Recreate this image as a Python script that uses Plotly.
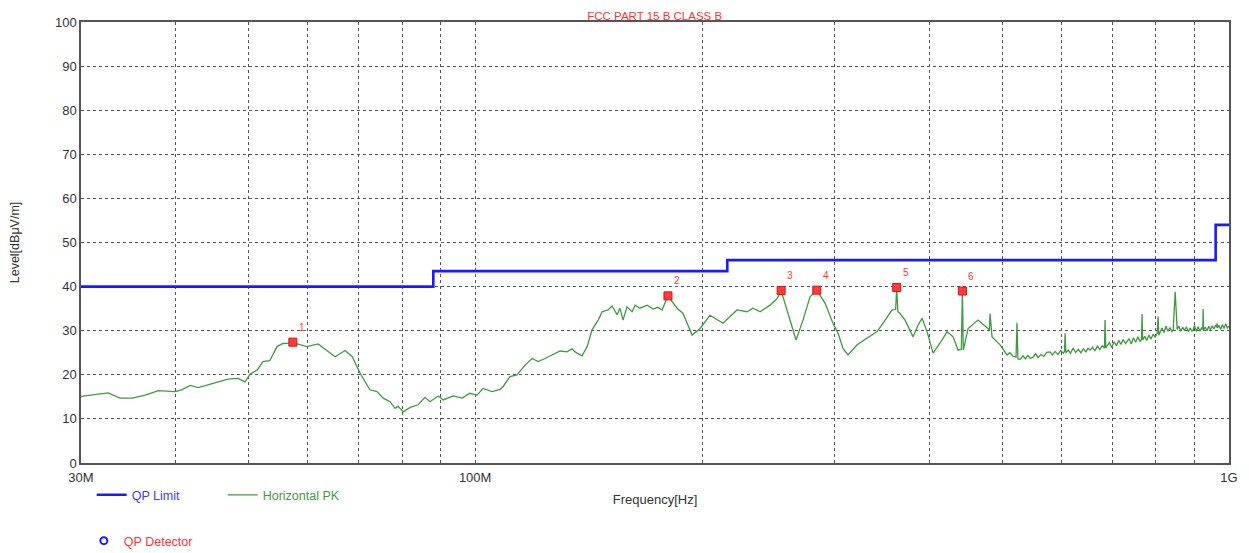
import math
import plotly.graph_objects as go

# ---------------- data ----------------
limit_freq_mhz = [30, 88, 216, 960, 1000]
limit_level = [40.0, 43.5, 46.0, 54.0, 54.0]

pk_freq_mhz = [
    30.0, 32.6, 33.8, 35.1, 36.5, 38.0, 40.0, 40.8, 41.9, 42.9, 44.2, 47.0, 48.5, 49.5,
    50.3, 51.4, 52.3, 53.4, 54.6, 55.6, 56.8, 57.3, 59.8, 61.9, 65.2, 67.2, 68.7, 70.4,
    72.5, 74.1, 75.5, 77.1, 78.3, 79.0, 80.3, 82.0, 84.0, 85.8, 87.1, 89.3, 90.7, 93.5,
    96.1, 98.4, 100.6, 102.4, 105.3, 107.9, 108.9, 111.2, 113.6, 116.5, 119.0, 121.2,
    123.8, 126.9, 129.6, 132.4, 134.4, 135.7, 138.6, 140.8, 142.9, 145.6, 147.4, 150.1,
    151.9, 154.3, 155.6, 157.1, 159.0, 161.5, 163.0, 165.4, 169.1, 172.2, 174.8, 177.0,
    180.2, 185.3, 188.7, 194.0, 198.8, 204.9, 213.2, 222.5, 229.4, 233.6, 238.8, 246.1,
    251.5, 254.6, 261.7, 266.5, 272.2, 278.1, 283.9, 291.2, 298.3, 303.0, 307.6, 312.3,
    321.1, 331.0, 341.3, 347.6, 357.3, 361.2, 362.4, 363.7, 366.2, 371.8, 381.0, 386.9,
    391.6, 397.6, 405.0, 416.3, 422.6, 430.5, 437.1, 441.5, 442.9, 444.2, 450.7, 464.6,
    474.7, 481.0, 482.0, 484.9, 497.0, 502.0, 507.6, 512.0, 517.0, 521.8, 523.3, 524.8,
    528.4, 533.0, 537.0, 541.0, 545.0, 549.6, 554.0, 558.0, 563.0, 568.0, 573.0, 579.0,
    583.0, 588.0, 593.0, 598.0, 603.0, 605.0, 606.2, 607.5, 611.8, 616.0, 621.0, 626.0,
    631.0, 636.0, 641.0, 646.0, 650.0, 654.3, 659.0, 664.0, 669.0, 674.0, 679.0, 683.5,
    684.9, 686.3, 689.1, 694.0, 699.0, 704.0, 709.0, 714.0, 719.0, 724.0, 729.0, 732.6,
    737.0, 742.0, 747.0, 752.0, 757.0, 762.0, 765.5, 766.8, 768.2, 773.0, 778.0, 783.0,
    788.0, 793.0, 798.0, 803.0, 805.3, 807.0, 810.2, 815.0, 820.0, 825.0, 830.0, 835.0,
    840.0, 843.3, 848.4, 853.6, 858.0, 863.0, 868.0, 873.0, 878.0, 883.0, 888.0, 893.0,
    896.2, 900.0, 905.0, 910.0, 915.0, 920.0, 923.0, 924.0, 925.0, 930.0, 935.3, 940.0,
    945.0, 950.0, 955.0, 960.0, 963.0, 964.2, 965.5, 970.0, 975.0, 980.0, 985.0, 990.0,
    995.0, 1000.0,
]
pk_level = [
    15.1, 15.9, 14.7, 14.7, 15.4, 16.4, 16.2, 16.6, 17.6, 17.1, 17.7, 19.0, 19.2, 18.4,
    20.2, 21.1, 23.0, 23.2, 26.4, 27.1, 27.2, 27.3, 26.4, 27.0, 24.1, 25.5, 24.1, 20.3,
    16.6, 16.2, 14.7, 13.9, 12.4, 12.9, 11.6, 12.6, 13.2, 14.9, 13.9, 15.2, 14.3, 15.2,
    14.7, 15.8, 15.4, 16.9, 16.2, 16.7, 17.3, 19.6, 20.0, 22.2, 23.7, 23.0,
    23.7, 24.7, 25.4, 25.2, 25.9, 25.2, 24.3, 26.4, 30.2, 32.4, 34.3, 34.7,
    35.6, 33.6, 35.1, 32.4, 35.4, 34.3, 35.8, 35.1, 35.8, 34.9, 35.3, 34.7,
    37.9, 35.1, 33.9, 29.0, 30.5, 33.5, 31.7, 34.7, 34.3, 35.1, 34.3, 35.8,
    37.3, 39.1, 32.4, 27.9, 32.4, 37.7, 39.2, 36.2, 31.7, 29.4, 26.0, 24.5,
    26.8, 28.3, 29.8, 31.7, 34.7, 34.8, 39.7, 34.3, 33.9, 32.4, 28.6, 31.3,
    32.8, 29.8, 24.9, 27.9, 29.8, 28.6, 25.6, 25.8, 39.0, 25.6, 30.5, 32.4,
    30.9, 30.2, 33.9, 28.6, 26.8, 25.6, 24.5, 25.0, 24.2, 24.0, 31.8, 23.6,
    23.5, 24.3, 23.6, 24.4, 23.7, 24.0, 24.8, 23.9, 24.6, 24.2, 25.1, 25.2,
    24.5, 25.3, 24.6, 25.5, 24.9, 25.3, 29.4, 25.0, 25.6, 24.9, 26.0, 25.1,
    25.8, 25.0, 25.9, 25.2, 26.0, 25.6, 26.3, 25.4, 26.5, 25.7, 26.6, 26.0,
    32.4, 26.1, 26.5, 27.3, 26.2, 27.5, 26.6, 27.8, 26.9, 28.0, 27.1, 27.5,
    28.2, 27.0, 28.4, 27.4, 28.6, 27.6, 28.0, 33.8, 27.9, 28.7, 27.8, 29.0,
    28.1, 29.2, 28.5, 29.4, 33.2, 29.0, 29.8, 30.6, 29.6, 31.0, 29.9, 30.7,
    29.8, 30.2, 38.8, 30.3, 31.0, 29.9, 30.8, 30.0, 30.9, 29.8, 30.6, 29.9,
    30.2, 31.2, 29.8, 30.9, 29.9, 30.7, 30.3, 34.9, 30.1, 30.8, 30.0, 31.0,
    30.2, 31.1, 30.4, 31.3, 30.8, 31.7, 30.6, 31.2, 30.3, 31.4, 30.5, 31.6,
    30.6, 31.0,
]

peak_freq_mhz = [57.3, 180.2, 254.6, 283.9, 362.4, 442.9]
peak_level = [27.4, 37.9, 39.1, 39.2, 39.8, 39.0]
peak_labels = ["1", "2", "3", "4", "5", "6"]

y_ticks = [0, 10, 20, 30, 40, 50, 60, 70, 80, 90, 100]
x_grid_mhz = [30, 40, 50, 60, 70, 80, 90, 100, 200, 300, 400, 500, 600, 700, 800, 900, 1000]
x_tick_text = {30: "30M", 100: "100M", 1000: "1G"}

# ---------------- figure ----------------
FONT = "Liberation Sans, Arial, sans-serif"
fig = go.Figure()

fig.add_trace(go.Scatter(
    x=limit_freq_mhz, y=limit_level, mode="lines", line_shape="hv",
    line=dict(color="#1a1aff", width=2.6),
    name="<span style='color:#3b3bff'>QP Limit</span>", legend="legend",
))
fig.add_trace(go.Scatter(
    x=pk_freq_mhz, y=pk_level, mode="lines",
    line=dict(color="#3f9a3f", width=1.3),
    name="<span style='color:#3f9a3f'>Horizontal PK</span>", legend="legend",
))
fig.add_trace(go.Scatter(
    x=[None], y=[None], mode="markers",
    marker=dict(symbol="circle-open", color="#1a1aff", size=7, line=dict(width=2)),
    name="<span style='color:#ff3333'>QP Detector</span>", legend="legend2",
))
fig.add_trace(go.Scatter(
    x=peak_freq_mhz, y=peak_level, mode="markers",
    marker=dict(symbol="square", color="#ff3b3b", size=8, line=dict(color="#e01010", width=1)),
    showlegend=False,
))

# annotations on a log axis take log10 positions
for f, lv, lab in zip(peak_freq_mhz, peak_level, peak_labels):
    fig.add_annotation(x=math.log10(f), y=lv, text=lab, showarrow=False, xref="x", yref="y",
                       xshift=9, yshift=15, font=dict(family=FONT, size=10, color="#ff3333"))

# page body has an 8px margin, so the figure is offset by 8px inside the window
fig.update_layout(
    width=1233, height=545,
    margin=dict(l=73, r=12, t=14, b=90, autoexpand=False),
    paper_bgcolor="white", plot_bgcolor="white",
    font=dict(family=FONT, size=13, color="#333333"),
    title=dict(text="FCC PART 15 B CLASS B", x=0.5245, xanchor="center",
               y=1 - 7.5 / 545, yanchor="middle",
               font=dict(family=FONT, size=11.5, color="#ff3333")),
    legend=dict(orientation="h", x=0.0093, xanchor="left", y=-0.073, yanchor="middle",
                font=dict(family=FONT, size=12.5), bgcolor="rgba(0,0,0,0)",
                itemwidth=30, entrywidth=86, entrywidthmode="pixels", tracegroupgap=0),
    legend2=dict(orientation="h", x=0.0025, xanchor="left", y=-0.177, yanchor="middle",
                 font=dict(family=FONT, size=12.5), bgcolor="rgba(0,0,0,0)", itemwidth=30),
)

fig.update_xaxes(
    type="log", range=[math.log10(30), 3.0], automargin=False,
    tickmode="array", tickvals=x_grid_mhz,
    ticktext=[x_tick_text.get(v, "") for v in x_grid_mhz],
    showgrid=True, gridcolor="#555555", griddash="dot", gridwidth=1,
    showline=True, linecolor="#555555", linewidth=1.5, mirror=True,
    ticks="", zeroline=False, ticklabelstandoff=2,
    tickfont=dict(family=FONT, size=13, color="#333333"),
    title=dict(text="Frequency[Hz]", standoff=11, font=dict(family=FONT, size=13, color="#333333")),
)
fig.update_yaxes(
    range=[0, 100], tickmode="array", tickvals=y_ticks, automargin=False,
    showgrid=True, gridcolor="#555555", griddash="dot", gridwidth=1,
    showline=True, linecolor="#555555", linewidth=1.5, mirror=True,
    ticks="", zeroline=False,
    tickfont=dict(family=FONT, size=13, color="#333333"),
    title=dict(text="Level[dBμV/m]", standoff=34, font=dict(family=FONT, size=12.5, color="#333333")),
)

fig.write_html("out.html")
